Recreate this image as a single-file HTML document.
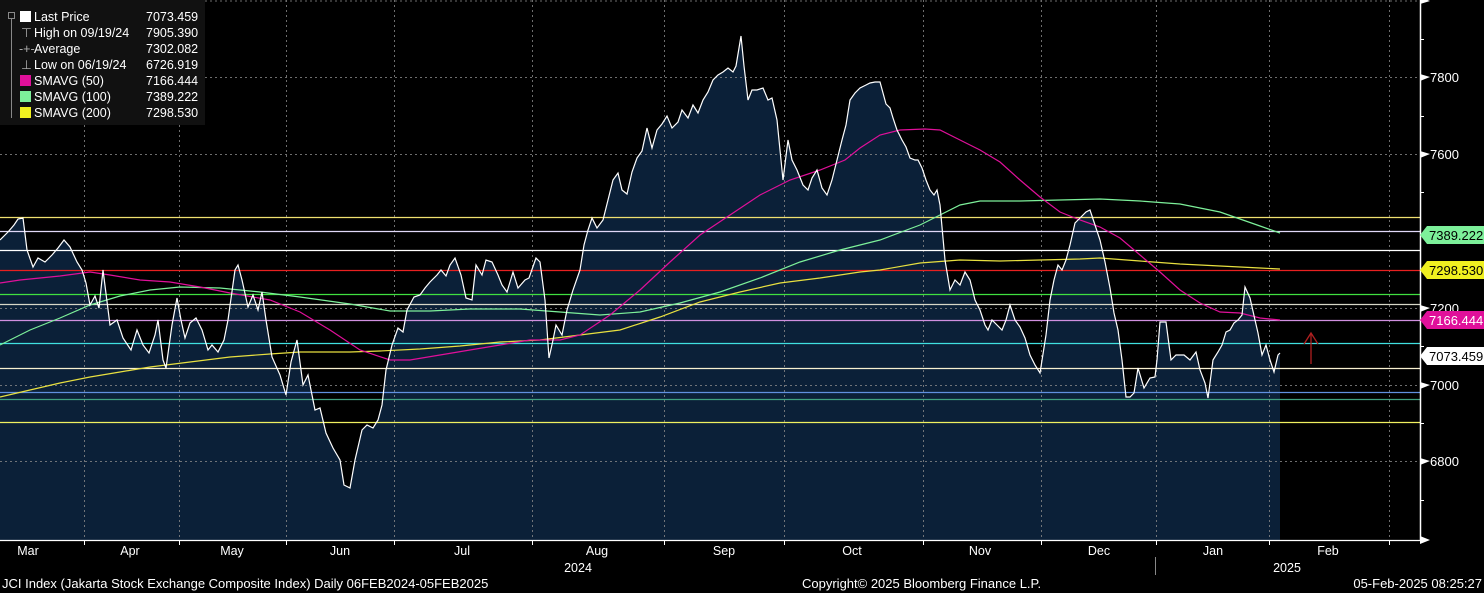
<!DOCTYPE html>
<html><head><meta charset="utf-8"><style>
html,body{margin:0;padding:0;background:#000;}
svg{display:block;font-family:"Liberation Sans",sans-serif;}
</style></head><body>
<svg width="1484" height="593" viewBox="0 0 1484 593" xmlns="http://www.w3.org/2000/svg">
<rect width="1484" height="593" fill="#000"/>
<polygon fill="#0b2038" points="0,540 0,240 8,232 14,225 18,219 23,218 27,250 33,267 38,258 45,262 52,255 58,248 64,240 70,247 77,262 82,270 86,283 90,305 95,296 99,308 103,270 110,325 117,320 123,338 131,350 137,330 143,345 149,353 155,335 158,320 163,360 166,368 172,325 177,298 181,320 185,338 190,323 196,318 202,330 208,350 212,345 218,352 224,340 228,320 235,270 238,265 242,280 248,307 253,295 258,310 262,292 266,320 272,357 280,375 286,395 291,362 297,340 303,385 308,375 315,410 320,408 326,433 333,448 340,460 344,485 350,488 355,460 362,430 367,425 373,428 378,420 382,405 386,370 392,345 398,328 403,332 407,310 414,297 420,295 425,288 430,282 437,275 441,270 446,276 450,265 455,258 461,275 466,298 472,300 476,265 482,275 486,260 492,262 498,275 502,285 507,292 513,272 518,288 525,280 529,278 536,258 540,262 545,300 549,358 553,340 556,325 562,335 567,310 573,290 580,270 584,245 588,230 592,218 597,228 603,220 608,200 613,180 618,173 622,190 627,194 632,172 637,158 642,151 647,128 652,148 657,130 662,124 667,116 672,128 678,122 682,110 688,118 693,105 698,113 703,100 708,92 713,80 718,75 723,72 728,68 733,72 736,66 741,36 744,66 748,100 752,90 757,90 763,88 768,100 772,98 777,120 783,180 788,140 792,160 797,170 803,185 808,190 812,178 817,170 822,188 827,195 832,180 837,160 842,140 846,125 850,100 855,93 860,88 866,85 870,83 875,82 880,82 886,104 890,108 893,118 897,130 902,140 906,147 910,158 915,160 918,160 922,168 926,180 930,190 934,195 937,190 940,205 945,260 950,290 955,280 960,285 965,272 970,280 975,300 980,310 985,325 988,330 992,320 997,325 1002,330 1006,320 1010,305 1015,320 1020,327 1025,338 1030,355 1035,365 1040,373 1046,335 1050,300 1054,280 1058,265 1062,270 1066,260 1070,245 1075,223 1080,218 1086,212 1090,210 1094,222 1100,240 1105,262 1110,288 1114,313 1118,330 1122,360 1126,397 1130,397 1134,393 1138,368 1144,388 1150,378 1155,377 1157,360 1160,322 1166,322 1171,360 1176,355 1184,355 1190,360 1196,352 1200,370 1205,383 1208,398 1213,360 1218,352 1222,345 1226,332 1230,330 1234,323 1238,320 1242,315 1245,287 1250,298 1255,320 1258,333 1262,355 1266,345 1270,360 1274,372 1278,355 1280,353 1280,540"/>
<g stroke="#8a8a8a" stroke-width="1" stroke-dasharray="2,3" opacity="0.8">
<line x1="0" y1="1" x2="1420" y2="1"/><line x1="0" y1="77.5" x2="1420" y2="77.5"/><line x1="0" y1="154.5" x2="1420" y2="154.5"/><line x1="0" y1="231.5" x2="1420" y2="231.5"/><line x1="0" y1="308.5" x2="1420" y2="308.5"/><line x1="0" y1="385.5" x2="1420" y2="385.5"/><line x1="0" y1="461.5" x2="1420" y2="461.5"/>
<line x1="84.5" y1="0" x2="84.5" y2="540"/><line x1="179.5" y1="0" x2="179.5" y2="540"/><line x1="286.5" y1="0" x2="286.5" y2="540"/><line x1="394.5" y1="0" x2="394.5" y2="540"/><line x1="532.5" y1="0" x2="532.5" y2="540"/><line x1="664.5" y1="0" x2="664.5" y2="540"/><line x1="784.5" y1="0" x2="784.5" y2="540"/><line x1="923.5" y1="0" x2="923.5" y2="540"/><line x1="1041.5" y1="0" x2="1041.5" y2="540"/><line x1="1156.5" y1="0" x2="1156.5" y2="540"/><line x1="1269.5" y1="0" x2="1269.5" y2="540"/><line x1="1389.5" y1="0" x2="1389.5" y2="540"/>
</g>
<g stroke-width="1.3">
<line x1="0" y1="217.5" x2="1420" y2="217.5" stroke="#f0e070"/>
<line x1="0" y1="231.5" x2="1420" y2="231.5" stroke="#e0d8f8"/>
<line x1="0" y1="250.5" x2="1420" y2="250.5" stroke="#ffffff"/>
<line x1="0" y1="270.5" x2="1420" y2="270.5" stroke="#e82020"/>
<line x1="0" y1="294.5" x2="1420" y2="294.5" stroke="#40e040"/>
<line x1="0" y1="304.5" x2="1420" y2="304.5" stroke="#d8d8c8"/>
<line x1="0" y1="320.5" x2="1420" y2="320.5" stroke="#d090e0"/>
<line x1="0" y1="343.5" x2="1420" y2="343.5" stroke="#40e0e0"/>
<line x1="0" y1="368.5" x2="1420" y2="368.5" stroke="#f8f0d0"/>
<line x1="0" y1="392.5" x2="1420" y2="392.5" stroke="#6090e0"/>
<line x1="0" y1="399.5" x2="1420" y2="399.5" stroke="#40a080"/>
<line x1="0" y1="422.5" x2="1420" y2="422.5" stroke="#f0f060"/>
</g>
<polyline fill="none" stroke="#e8e040" stroke-width="1.2" points="0,397 30,390 60,383 90,377 120,372 150,367 190,362 230,357 270,354 300,352 350,352 380,351 420,349 460,346 500,342 540,340 580,335 620,330 660,317 700,302 740,292 780,283 820,278 860,272 880,270 920,263 960,260 1000,261 1040,260 1080,259 1100,258 1140,261 1180,264 1220,266 1260,268 1280,269"/>
<polyline fill="none" stroke="#7df09a" stroke-width="1.2" points="0,345 30,330 60,318 90,305 120,296 150,290 180,287 220,288 260,292 300,297 350,304 390,311 430,311 470,309 520,309 560,312 600,315 640,312 680,303 720,292 760,278 800,262 840,250 880,240 920,225 940,215 960,205 980,201 1020,201 1060,200 1100,199 1140,201 1180,204 1220,212 1260,226 1280,233"/>
<polyline fill="none" stroke="#e0109a" stroke-width="1.2" points="0,283 20,280 60,276 90,272 110,275 140,280 170,282 200,287 230,293 270,300 300,312 330,330 360,350 390,360 410,360 440,355 470,350 500,345 530,340 560,340 580,335 610,315 640,290 670,262 700,235 730,215 760,195 790,180 820,170 845,160 860,148 880,135 900,130 925,129 940,130 960,140 980,150 1000,162 1020,180 1040,197 1060,212 1080,220 1100,227 1120,238 1140,255 1160,272 1180,290 1200,303 1220,312 1240,313 1260,318 1280,320"/>
<polyline fill="none" stroke="#ffffff" stroke-width="1.2" points="0,240 8,232 14,225 18,219 23,218 27,250 33,267 38,258 45,262 52,255 58,248 64,240 70,247 77,262 82,270 86,283 90,305 95,296 99,308 103,270 110,325 117,320 123,338 131,350 137,330 143,345 149,353 155,335 158,320 163,360 166,368 172,325 177,298 181,320 185,338 190,323 196,318 202,330 208,350 212,345 218,352 224,340 228,320 235,270 238,265 242,280 248,307 253,295 258,310 262,292 266,320 272,357 280,375 286,395 291,362 297,340 303,385 308,375 315,410 320,408 326,433 333,448 340,460 344,485 350,488 355,460 362,430 367,425 373,428 378,420 382,405 386,370 392,345 398,328 403,332 407,310 414,297 420,295 425,288 430,282 437,275 441,270 446,276 450,265 455,258 461,275 466,298 472,300 476,265 482,275 486,260 492,262 498,275 502,285 507,292 513,272 518,288 525,280 529,278 536,258 540,262 545,300 549,358 553,340 556,325 562,335 567,310 573,290 580,270 584,245 588,230 592,218 597,228 603,220 608,200 613,180 618,173 622,190 627,194 632,172 637,158 642,151 647,128 652,148 657,130 662,124 667,116 672,128 678,122 682,110 688,118 693,105 698,113 703,100 708,92 713,80 718,75 723,72 728,68 733,72 736,66 741,36 744,66 748,100 752,90 757,90 763,88 768,100 772,98 777,120 783,180 788,140 792,160 797,170 803,185 808,190 812,178 817,170 822,188 827,195 832,180 837,160 842,140 846,125 850,100 855,93 860,88 866,85 870,83 875,82 880,82 886,104 890,108 893,118 897,130 902,140 906,147 910,158 915,160 918,160 922,168 926,180 930,190 934,195 937,190 940,205 945,260 950,290 955,280 960,285 965,272 970,280 975,300 980,310 985,325 988,330 992,320 997,325 1002,330 1006,320 1010,305 1015,320 1020,327 1025,338 1030,355 1035,365 1040,373 1046,335 1050,300 1054,280 1058,265 1062,270 1066,260 1070,245 1075,223 1080,218 1086,212 1090,210 1094,222 1100,240 1105,262 1110,288 1114,313 1118,330 1122,360 1126,397 1130,397 1134,393 1138,368 1144,388 1150,378 1155,377 1157,360 1160,322 1166,322 1171,360 1176,355 1184,355 1190,360 1196,352 1200,370 1205,383 1208,398 1213,360 1218,352 1222,345 1226,332 1230,330 1234,323 1238,320 1242,315 1245,287 1250,298 1255,320 1258,333 1262,355 1266,345 1270,360 1274,372 1278,355 1280,353"/>
<g stroke="#b02020" stroke-width="1.3" fill="none"><line x1="1311" y1="364" x2="1311" y2="333"/><polyline points="1304,344 1311,333 1318,344"/></g>
<line x1="1420.5" y1="0" x2="1420.5" y2="540" stroke="#fff" stroke-width="1.5"/>
<line x1="0" y1="540.5" x2="1422" y2="540.5" stroke="#fff" stroke-width="1.2"/>
<polygon points="1420,536 1430,540 1420,544" fill="#fff"/>
<g fill="#fff">
<polygon points="1420,-3 1430,1 1420,4"/>
<polygon points="1420,74 1430,77 1420,81"/><polygon points="1420,151 1430,154 1420,158"/><polygon points="1420,305 1430,308 1420,312"/><polygon points="1420,382 1430,385 1420,389"/><polygon points="1420,458 1430,461 1420,465"/>
</g>
<g stroke="#fff" stroke-width="1"><line x1="1420" y1="39.5" x2="1424" y2="39.5"/><line x1="1420" y1="116.5" x2="1424" y2="116.5"/><line x1="1420" y1="192.5" x2="1424" y2="192.5"/><line x1="1420" y1="346.5" x2="1424" y2="346.5"/><line x1="1420" y1="423.5" x2="1424" y2="423.5"/><line x1="1420" y1="500.5" x2="1424" y2="500.5"/></g>
<g fill="#fff" font-size="13">
<text x="1430" y="82">7800</text><text x="1430" y="159">7600</text><text x="1430" y="313">7200</text><text x="1430" y="390">7000</text><text x="1430" y="466">6800</text>
</g>
<g font-size="13">
<polygon points="1420,235 1427,226 1484,226 1484,244 1427,244" fill="#7df09a"/><text x="1429" y="240" fill="#000">7389.222</text>
<polygon points="1420,270 1427,261 1484,261 1484,279 1427,279" fill="#f0f020"/><text x="1429" y="275" fill="#000">7298.530</text>
<polygon points="1420,320 1427,311 1484,311 1484,329 1427,329" fill="#e0109a"/><text x="1429" y="325" fill="#fff">7166.444</text>
<polygon points="1420,356 1427,347 1484,347 1484,365 1427,365" fill="#fff"/><text x="1429" y="361" fill="#000">7073.459</text>
</g>
<g stroke="#fff"><line x1="84.5" y1="540" x2="84.5" y2="545"/><line x1="179.5" y1="540" x2="179.5" y2="545"/><line x1="286.5" y1="540" x2="286.5" y2="545"/><line x1="394.5" y1="540" x2="394.5" y2="545"/><line x1="532.5" y1="540" x2="532.5" y2="545"/><line x1="664.5" y1="540" x2="664.5" y2="545"/><line x1="784.5" y1="540" x2="784.5" y2="545"/><line x1="923.5" y1="540" x2="923.5" y2="545"/><line x1="1041.5" y1="540" x2="1041.5" y2="545"/><line x1="1156.5" y1="540" x2="1156.5" y2="545"/><line x1="1269.5" y1="540" x2="1269.5" y2="545"/><line x1="1389.5" y1="540" x2="1389.5" y2="545"/>
<line x1="1155.5" y1="557" x2="1155.5" y2="575" stroke="#888"/></g>
<g fill="#fff" font-size="12.5" text-anchor="middle">
<text x="28" y="555">Mar</text><text x="130" y="555">Apr</text><text x="232" y="555">May</text><text x="340" y="555">Jun</text><text x="462" y="555">Jul</text><text x="597" y="555">Aug</text><text x="724" y="555">Sep</text><text x="852" y="555">Oct</text><text x="980" y="555">Nov</text><text x="1099" y="555">Dec</text><text x="1213" y="555">Jan</text><text x="1328" y="555">Feb</text>
<text x="578" y="572">2024</text><text x="1287" y="572">2025</text>
</g>
<g fill="#fff" font-size="13">
<text x="2" y="588">JCI Index (Jakarta Stock Exchange Composite Index)  Daily 06FEB2024-05FEB2025</text>
<text x="802" y="588">Copyright© 2025 Bloomberg Finance L.P.</text>
<text x="1482" y="588" text-anchor="end">05-Feb-2025 08:25:27</text>
</g>
<rect x="0" y="0" width="205" height="125" fill="#111"/>
<g stroke="#888" stroke-width="1" fill="none">
<rect x="8.5" y="12.5" width="6" height="6"/><line x1="11.5" y1="19" x2="11.5" y2="118"/>
</g>
<g font-size="12.5" fill="#fff">
<rect x="20" y="11" width="11" height="11" fill="#fff"/><text x="34" y="21">Last Price</text><text x="146" y="21">7073.459</text>
<text x="21" y="37" fill="#aaa">⊤</text><text x="34" y="37">High on 09/19/24</text><text x="146" y="37">7905.390</text>
<text x="19" y="53" fill="#aaa">-+-</text><text x="34" y="53">Average</text><text x="146" y="53">7302.082</text>
<text x="21" y="69" fill="#aaa">⊥</text><text x="34" y="69">Low on 06/19/24</text><text x="146" y="69">6726.919</text>
<rect x="20" y="75" width="11" height="11" fill="#e0109a"/><text x="34" y="85">SMAVG (50)</text><text x="146" y="85">7166.444</text>
<rect x="20" y="91" width="11" height="11" fill="#7df09a"/><text x="34" y="101">SMAVG (100)</text><text x="146" y="101">7389.222</text>
<rect x="20" y="107" width="11" height="11" fill="#f0f020"/><text x="34" y="117">SMAVG (200)</text><text x="146" y="117">7298.530</text>
</g>
</svg>
</body></html>
